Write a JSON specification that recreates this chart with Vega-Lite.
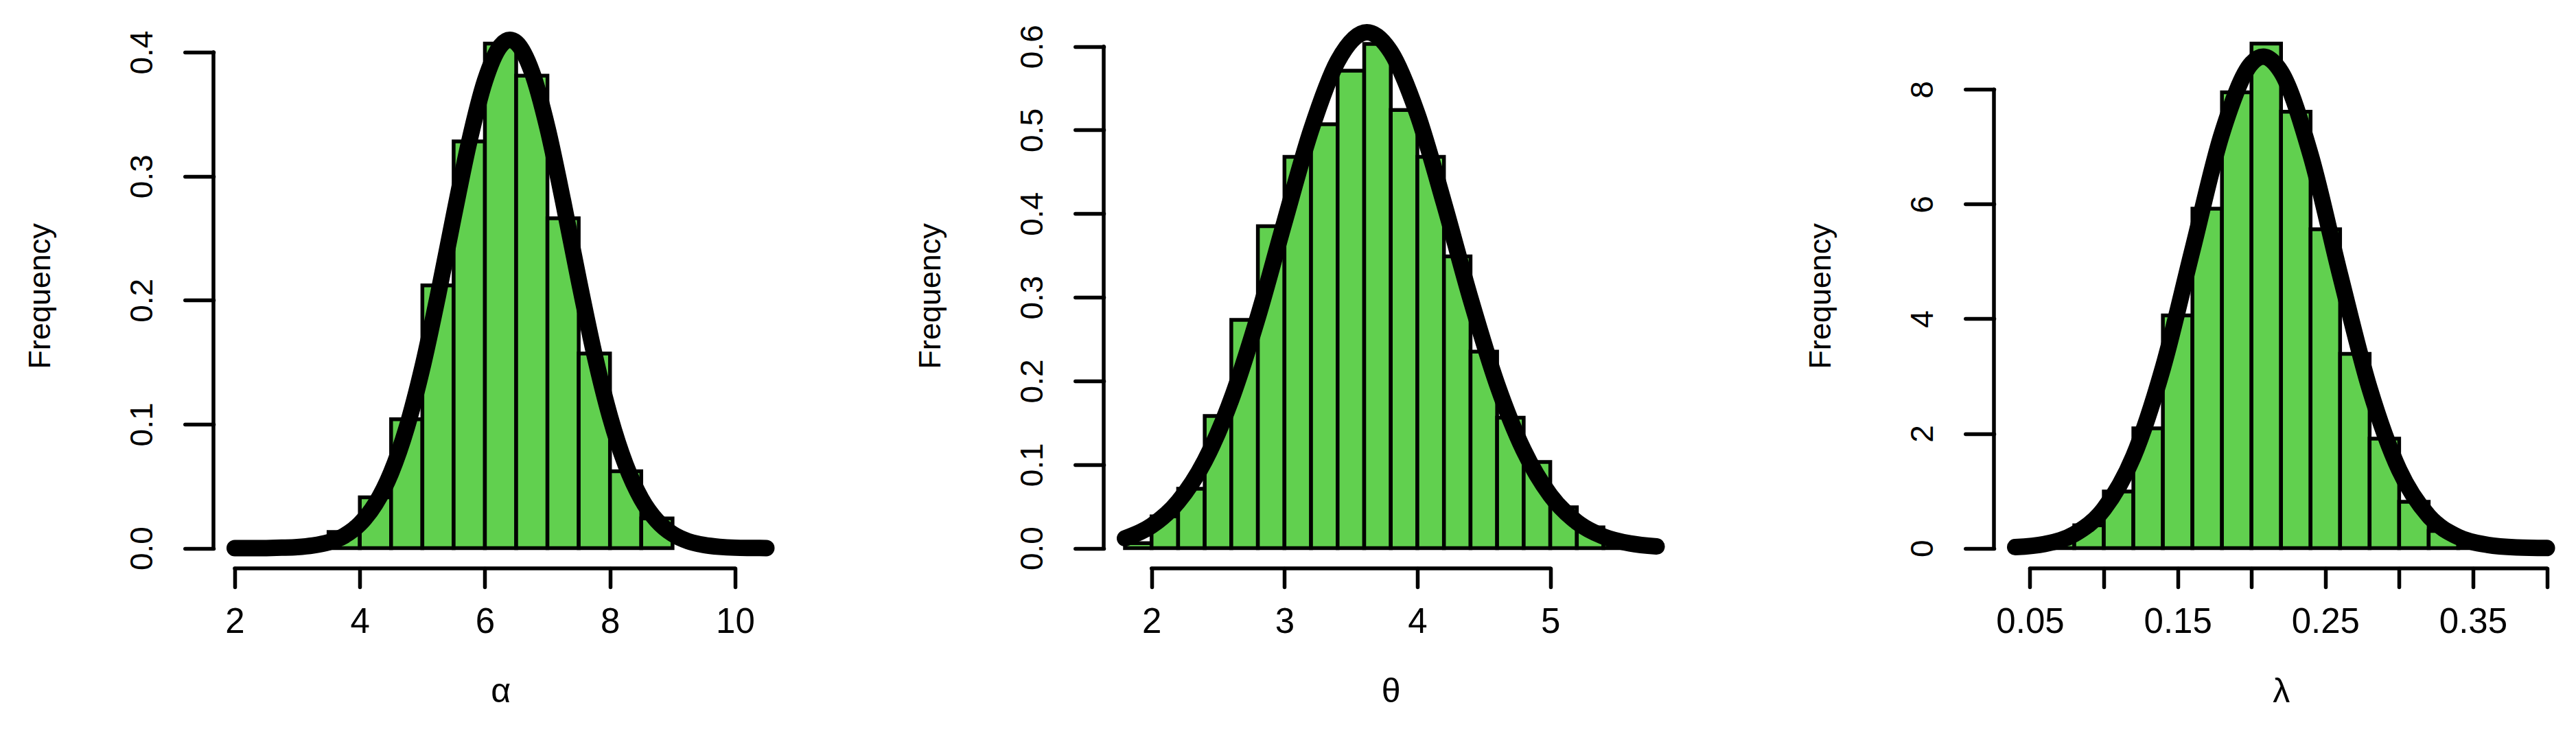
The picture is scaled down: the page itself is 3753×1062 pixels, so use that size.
{
  "$schema": "https://vega.github.io/schema/vega-lite/v6.json",
  "background": "white",
  "padding": {"left": 36, "top": 34, "right": 0, "bottom": 0},
  "bounds": "flush",
  "spacing": 460,
  "config": {
    "view": {"stroke": null},
    "font": "Liberation Sans",
    "axis": {
      "grid": false,
      "domain": false,
      "tickColor": "black",
      "tickWidth": 5.5,
      "tickCap": "round",
      "labelColor": "black",
      "labelFont": "Liberation Sans",
      "labelOverlap": false,
      "labelFlush": false,
      "titleFont": "Liberation Sans",
      "titleFontWeight": "normal",
      "titleColor": "black"
    },
    "axisX": {
      "tickSize": 27,
      "labelFontSize": 51,
      "labelAngle": 0,
      "labelAlign": "center",
      "labelBaseline": "alphabetic",
      "labelPadding": 66,
      "titleFontSize": 50,
      "titleBaseline": "alphabetic",
      "titlePadding": 91
    },
    "axisY": {
      "tickSize": 41.7,
      "labelFontSize": 46,
      "labelAngle": -90,
      "labelAlign": "center",
      "labelBaseline": "alphabetic",
      "labelPadding": 47.6,
      "titleFontSize": 45,
      "titleAngle": -90,
      "titleBaseline": "alphabetic",
      "titlePadding": 112
    }
  },
  "datasets": {
    "alphaBars": [
      {"x0": 3.5, "x1": 4.0, "density": 0.013},
      {"x0": 4.0, "x1": 4.5, "density": 0.041},
      {"x0": 4.5, "x1": 5.0, "density": 0.104},
      {"x0": 5.0, "x1": 5.5, "density": 0.212},
      {"x0": 5.5, "x1": 6.0, "density": 0.328},
      {"x0": 6.0, "x1": 6.5, "density": 0.407},
      {"x0": 6.5, "x1": 7.0, "density": 0.381},
      {"x0": 7.0, "x1": 7.5, "density": 0.266},
      {"x0": 7.5, "x1": 8.0, "density": 0.157},
      {"x0": 8.0, "x1": 8.5, "density": 0.062},
      {"x0": 8.5, "x1": 9.0, "density": 0.024}
    ],
    "alphaCurve": [
      {"x": 2.0, "y": 0.0}, {"x": 2.25, "y": 0.0}, {"x": 2.5, "y": 0.0001}, {"x": 2.75, "y": 0.0004},
      {"x": 3.0, "y": 0.0009}, {"x": 3.25, "y": 0.0022}, {"x": 3.5, "y": 0.0048}, {"x": 3.75, "y": 0.0100},
      {"x": 4.0, "y": 0.0196}, {"x": 4.25, "y": 0.0357}, {"x": 4.5, "y": 0.0609}, {"x": 4.75, "y": 0.0973},
      {"x": 5.0, "y": 0.1456}, {"x": 5.25, "y": 0.2039}, {"x": 5.5, "y": 0.2673}, {"x": 5.75, "y": 0.3280},
      {"x": 6.0, "y": 0.3768}, {"x": 6.25, "y": 0.4052}, {"x": 6.4, "y": 0.4100}, {"x": 6.5, "y": 0.4078},
      {"x": 6.75, "y": 0.3843}, {"x": 7.0, "y": 0.3390}, {"x": 7.25, "y": 0.2799}, {"x": 7.5, "y": 0.2164},
      {"x": 7.75, "y": 0.1566}, {"x": 8.0, "y": 0.1061}, {"x": 8.25, "y": 0.0673}, {"x": 8.5, "y": 0.0399},
      {"x": 8.75, "y": 0.0222}, {"x": 9.0, "y": 0.0115}, {"x": 9.25, "y": 0.0056}, {"x": 9.5, "y": 0.0026},
      {"x": 9.75, "y": 0.0011}, {"x": 10.0, "y": 0.0004}, {"x": 10.25, "y": 0.0002}, {"x": 10.5, "y": 0.0001}
    ],
    "thetaBars": [
      {"x0": 1.8, "x1": 2.0, "density": 0.006},
      {"x0": 2.0, "x1": 2.2, "density": 0.038},
      {"x0": 2.2, "x1": 2.4, "density": 0.071},
      {"x0": 2.4, "x1": 2.6, "density": 0.158},
      {"x0": 2.6, "x1": 2.8, "density": 0.273},
      {"x0": 2.8, "x1": 3.0, "density": 0.385},
      {"x0": 3.0, "x1": 3.2, "density": 0.468},
      {"x0": 3.2, "x1": 3.4, "density": 0.507},
      {"x0": 3.4, "x1": 3.6, "density": 0.571},
      {"x0": 3.6, "x1": 3.8, "density": 0.603},
      {"x0": 3.8, "x1": 4.0, "density": 0.524},
      {"x0": 4.0, "x1": 4.2, "density": 0.468},
      {"x0": 4.2, "x1": 4.4, "density": 0.349},
      {"x0": 4.4, "x1": 4.6, "density": 0.235},
      {"x0": 4.6, "x1": 4.8, "density": 0.156},
      {"x0": 4.8, "x1": 5.0, "density": 0.103},
      {"x0": 5.0, "x1": 5.2, "density": 0.049},
      {"x0": 5.2, "x1": 5.4, "density": 0.025},
      {"x0": 5.4, "x1": 5.6, "density": 0.007}
    ],
    "thetaCurve": [
      {"x": 1.8, "y": 0.0118}, {"x": 2.0, "y": 0.0268}, {"x": 2.2, "y": 0.0555}, {"x": 2.4, "y": 0.1043},
      {"x": 2.6, "y": 0.1780}, {"x": 2.8, "y": 0.2764}, {"x": 3.0, "y": 0.3898}, {"x": 3.2, "y": 0.4998},
      {"x": 3.4, "y": 0.5823}, {"x": 3.62, "y": 0.6170}, {"x": 3.8, "y": 0.5936}, {"x": 4.0, "y": 0.5193},
      {"x": 4.2, "y": 0.4128}, {"x": 4.4, "y": 0.2983}, {"x": 4.6, "y": 0.1959}, {"x": 4.8, "y": 0.1170},
      {"x": 5.0, "y": 0.0634}, {"x": 5.2, "y": 0.0313}, {"x": 5.4, "y": 0.0140}, {"x": 5.6, "y": 0.0057},
      {"x": 5.8, "y": 0.0021}
    ],
    "lambdaBars": [
      {"x0": 0.06, "x1": 0.08, "density": 0.1},
      {"x0": 0.08, "x1": 0.10, "density": 0.40},
      {"x0": 0.10, "x1": 0.12, "density": 0.99},
      {"x0": 0.12, "x1": 0.14, "density": 2.09},
      {"x0": 0.14, "x1": 0.16, "density": 4.06},
      {"x0": 0.16, "x1": 0.18, "density": 5.92},
      {"x0": 0.18, "x1": 0.20, "density": 7.95},
      {"x0": 0.20, "x1": 0.22, "density": 8.80},
      {"x0": 0.22, "x1": 0.24, "density": 7.61},
      {"x0": 0.24, "x1": 0.26, "density": 5.56},
      {"x0": 0.26, "x1": 0.28, "density": 3.39},
      {"x0": 0.28, "x1": 0.30, "density": 1.91},
      {"x0": 0.30, "x1": 0.32, "density": 0.81},
      {"x0": 0.32, "x1": 0.34, "density": 0.30},
      {"x0": 0.34, "x1": 0.36, "density": 0.08}
    ],
    "lambdaCurve": [
      {"x": 0.04, "y": 0.019}, {"x": 0.06, "y": 0.074}, {"x": 0.08, "y": 0.245}, {"x": 0.10, "y": 0.682},
      {"x": 0.12, "y": 1.596}, {"x": 0.14, "y": 3.142}, {"x": 0.16, "y": 5.198}, {"x": 0.18, "y": 7.230},
      {"x": 0.20, "y": 8.452}, {"x": 0.208, "y": 8.570}, {"x": 0.22, "y": 8.306}, {"x": 0.24, "y": 6.862},
      {"x": 0.26, "y": 4.766}, {"x": 0.28, "y": 2.783}, {"x": 0.30, "y": 1.365}, {"x": 0.32, "y": 0.563},
      {"x": 0.34, "y": 0.195}, {"x": 0.36, "y": 0.057}, {"x": 0.38, "y": 0.014}, {"x": 0.40, "y": 0.003}
    ]
  },
  "hconcat": [
    {
      "width": 836.5,
      "height": 794,
      "layer": [
        {
          "data": {"name": "alphaBars"},
          "mark": {"type": "rect", "fill": "#61D04F", "stroke": "black", "strokeWidth": 5.5},
          "encoding": {
            "x": {"field": "x0", "type": "quantitative",
                  "scale": {"domain": [1.66, 10.84], "nice": false, "zero": false},
                  "axis": {"values": [2, 4, 6, 8, 10], "format": "d", "title": "α"}},
            "x2": {"field": "x1"},
            "y": {"field": "density", "type": "quantitative",
                  "scale": {"domain": [-0.01628, 0.42328], "nice": false, "zero": false},
                  "axis": {"values": [0, 0.1, 0.2, 0.3, 0.4], "format": ".1f", "title": "Frequency"}},
            "y2": {"datum": 0}
          }
        },
        {
          "data": {"name": "alphaCurve"},
          "mark": {"type": "line", "stroke": "black", "strokeWidth": 24, "strokeCap": "round", "strokeJoin": "round", "interpolate": "monotone"},
          "encoding": {
            "x": {"field": "x", "type": "quantitative"},
            "y": {"field": "y", "type": "quantitative"}
          }
        },
        {
          "data": {"values": [{}]},
          "mark": {"type": "rule", "stroke": "black", "strokeWidth": 5.5, "strokeCap": "round"},
          "encoding": {"x": {"datum": 2}, "x2": {"datum": 10}, "y": {"datum": -0.01628}}
        },
        {
          "data": {"values": [{}]},
          "mark": {"type": "rule", "stroke": "black", "strokeWidth": 5.5, "strokeCap": "round"},
          "encoding": {"x": {"datum": 1.66}, "y": {"datum": 0}, "y2": {"datum": 0.4}}
        }
      ]
    },
    {
      "width": 836.5,
      "height": 794,
      "layer": [
        {
          "data": {"name": "thetaBars"},
          "mark": {"type": "rect", "fill": "#61D04F", "stroke": "black", "strokeWidth": 5.5},
          "encoding": {
            "x": {"field": "x0", "type": "quantitative",
                  "scale": {"domain": [1.64, 5.96], "nice": false, "zero": false},
                  "axis": {"values": [2, 3, 4, 5], "format": "d", "title": "θ"}},
            "x2": {"field": "x1"},
            "y": {"field": "density", "type": "quantitative",
                  "scale": {"domain": [-0.02414, 0.62764], "nice": false, "zero": false},
                  "axis": {"values": [0, 0.1, 0.2, 0.3, 0.4, 0.5, 0.6], "format": ".1f", "title": "Frequency"}},
            "y2": {"datum": 0}
          }
        },
        {
          "data": {"name": "thetaCurve"},
          "mark": {"type": "line", "stroke": "black", "strokeWidth": 24, "strokeCap": "round", "strokeJoin": "round", "interpolate": "monotone"},
          "encoding": {
            "x": {"field": "x", "type": "quantitative"},
            "y": {"field": "y", "type": "quantitative"}
          }
        },
        {
          "data": {"values": [{}]},
          "mark": {"type": "rule", "stroke": "black", "strokeWidth": 5.5, "strokeCap": "round"},
          "encoding": {"x": {"datum": 2}, "x2": {"datum": 5}, "y": {"datum": -0.02414}}
        },
        {
          "data": {"values": [{}]},
          "mark": {"type": "rule", "stroke": "black", "strokeWidth": 5.5, "strokeCap": "round"},
          "encoding": {"x": {"datum": 1.64}, "y": {"datum": 0}, "y2": {"datum": 0.6}}
        }
      ]
    },
    {
      "width": 836.5,
      "height": 794,
      "layer": [
        {
          "data": {"name": "lambdaBars"},
          "mark": {"type": "rect", "fill": "#61D04F", "stroke": "black", "strokeWidth": 5.5},
          "encoding": {
            "x": {"field": "x0", "type": "quantitative",
                  "scale": {"domain": [0.0256, 0.4144], "nice": false, "zero": false},
                  "axis": {"values": [0.05, 0.1, 0.15, 0.2, 0.25, 0.3, 0.35, 0.4], "format": ".2f",
                           "labelExpr": "indexof(['0.05','0.15','0.25','0.35'], datum.label) >= 0 ? datum.label : ''",
                           "title": "λ"}},
            "x2": {"field": "x1"},
            "y": {"field": "density", "type": "quantitative",
                  "scale": {"domain": [-0.352, 9.152], "nice": false, "zero": false},
                  "axis": {"values": [0, 2, 4, 6, 8], "format": "d", "title": "Frequency"}},
            "y2": {"datum": 0}
          }
        },
        {
          "data": {"name": "lambdaCurve"},
          "mark": {"type": "line", "stroke": "black", "strokeWidth": 24, "strokeCap": "round", "strokeJoin": "round", "interpolate": "monotone"},
          "encoding": {
            "x": {"field": "x", "type": "quantitative"},
            "y": {"field": "y", "type": "quantitative"}
          }
        },
        {
          "data": {"values": [{}]},
          "mark": {"type": "rule", "stroke": "black", "strokeWidth": 5.5, "strokeCap": "round"},
          "encoding": {"x": {"datum": 0.05}, "x2": {"datum": 0.4}, "y": {"datum": -0.352}}
        },
        {
          "data": {"values": [{}]},
          "mark": {"type": "rule", "stroke": "black", "strokeWidth": 5.5, "strokeCap": "round"},
          "encoding": {"x": {"datum": 0.0256}, "y": {"datum": 0}, "y2": {"datum": 8}}
        }
      ]
    }
  ]
}
